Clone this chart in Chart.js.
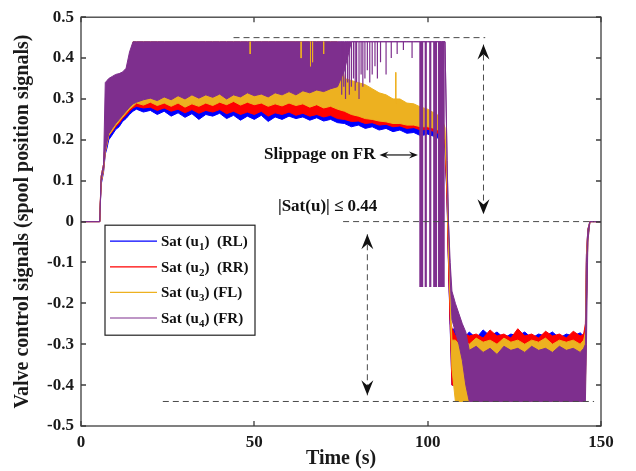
<!DOCTYPE html>
<html lang="en">
<head>
<meta charset="UTF-8">
<title>Valve control signals</title>
<script src="https://cdn.jsdelivr.net/npm/chart.js"></script>
<style>
  html, body { margin: 0; padding: 0; background: #fff; }
</style>
</head>
<body>
<canvas id="valveChart" width="636" height="471"></canvas>
<script>
// time grid (s) shared by every envelope below
const time = [0, 5.4, 5.8, 6.5, 7, 7.5, 8, 9, 10, 11, 12, 13, 14, 15,
  16, 18, 20, 22, 24, 26, 28, 30, 32, 34, 36, 38, 40, 42, 44, 46, 48, 50, 52, 54, 56, 58, 60,
  62, 64, 66, 68, 70, 72, 74, 76, 78, 80, 82, 84, 86, 88, 90, 92, 94, 96, 98, 100, 102, 104,
  105, 105.6, 106, 106.5, 107, 108, 109, 110, 111,
  112, 114, 116, 118, 120, 122, 124, 126, 128, 130, 132, 134, 136, 138, 140, 142, 144,
  145, 145.5, 145.8, 146.2, 146.8, 148, 150];

// Sat(u1) RL - lower / upper envelope of the chattering signal
const blueLo = [0, 0, 0.09, 0.12, 0.165, 0.18, 0.2, 0.212, 0.225, 0.232, 0.245, 0.252, 0.262, 0.27,
  0.275, 0.268, 0.272, 0.262, 0.27, 0.258, 0.266, 0.255, 0.264, 0.25, 0.262, 0.258, 0.265, 0.252, 0.26,
  0.248, 0.258, 0.25, 0.26, 0.245, 0.256, 0.25, 0.258, 0.252, 0.256, 0.248, 0.254, 0.246, 0.25, 0.242,
  0.24, 0.232, 0.236, 0.228, 0.232, 0.224, 0.228, 0.22, 0.224, 0.216, 0.218, 0.21, 0.214, 0.208, 0.2,
  0.18, 0.05, -0.1, -0.26, -0.4, -0.4, -0.4, -0.4, -0.4,
  -0.4, -0.4, -0.4, -0.4, -0.4, -0.4, -0.4, -0.4, -0.4, -0.4, -0.4, -0.4, -0.4, -0.4, -0.4, -0.4, -0.4,
  -0.4, -0.4, -0.2, -0.04, 0, 0, 0];
const blueHi = [0, 0, 0.1, 0.13, 0.18, 0.2, 0.22, 0.23, 0.24, 0.25, 0.26, 0.27, 0.28, 0.285,
  0.29, 0.29, 0.29, 0.29, 0.29, 0.29, 0.29, 0.29, 0.29, 0.29, 0.29, 0.29, 0.29, 0.29, 0.29,
  0.29, 0.29, 0.29, 0.29, 0.29, 0.29, 0.29, 0.29, 0.29, 0.29, 0.29, 0.29, 0.29, 0.29, 0.29,
  0.26, 0.255, 0.25, 0.248, 0.245, 0.24, 0.24, 0.235, 0.235, 0.23, 0.23, 0.225, 0.225, 0.22, 0.215,
  0.19, 0.06, -0.09, -0.25, -0.265, -0.26, -0.275, -0.265, -0.28,
  -0.27, -0.285, -0.265, -0.28, -0.27, -0.285, -0.275, -0.28, -0.27, -0.285, -0.275, -0.28, -0.27, -0.285, -0.275, -0.28, -0.272,
  -0.28, -0.26, -0.08, -0.02, 0, 0, 0];

// Sat(u2) RR
const redLo = [0, 0, 0.095, 0.125, 0.17, 0.19, 0.21, 0.22, 0.232, 0.24, 0.252, 0.26, 0.27, 0.278,
  0.282, 0.278, 0.28, 0.272, 0.278, 0.27, 0.275, 0.266, 0.274, 0.265, 0.272, 0.268, 0.274, 0.264, 0.27,
  0.262, 0.268, 0.262, 0.27, 0.258, 0.266, 0.262, 0.268, 0.26, 0.265, 0.258, 0.262, 0.256, 0.26, 0.252,
  0.25, 0.245, 0.246, 0.24, 0.242, 0.236, 0.238, 0.232, 0.234, 0.228, 0.23, 0.224, 0.226, 0.22, 0.212,
  0.19, 0.055, -0.1, -0.25, -0.4, -0.4, -0.4, -0.4, -0.4,
  -0.4, -0.4, -0.4, -0.4, -0.4, -0.4, -0.4, -0.4, -0.4, -0.4, -0.4, -0.4, -0.4, -0.4, -0.4, -0.4, -0.4,
  -0.4, -0.4, -0.2, -0.04, 0, 0, 0];
const redHi = [0, 0, 0.11, 0.14, 0.2, 0.34, 0.3, 0.28, 0.28, 0.28, 0.285, 0.29, 0.295, 0.3,
  0.3, 0.3, 0.3, 0.3, 0.3, 0.3, 0.3, 0.3, 0.3, 0.3, 0.3, 0.3, 0.3, 0.3, 0.3,
  0.3, 0.3, 0.3, 0.3, 0.3, 0.3, 0.3, 0.3, 0.3, 0.3, 0.3, 0.3, 0.3, 0.3, 0.3,
  0.275, 0.27, 0.265, 0.262, 0.258, 0.255, 0.252, 0.248, 0.245, 0.242, 0.24, 0.236, 0.235, 0.23, 0.225,
  0.2, 0.065, -0.09, -0.24, -0.26, -0.28, -0.27, -0.285, -0.275,
  -0.28, -0.275, -0.285, -0.265, -0.28, -0.275, -0.285, -0.262, -0.28, -0.275, -0.285, -0.268, -0.28, -0.275, -0.285, -0.268, -0.28,
  -0.275, -0.25, -0.08, -0.02, 0, 0, 0];

// Sat(u3) FL
const yellowLo = [0, 0, 0.095, 0.125, 0.17, 0.19, 0.21, 0.222, 0.235, 0.245, 0.255, 0.265, 0.275, 0.282,
  0.29, 0.285, 0.292, 0.284, 0.29, 0.282, 0.29, 0.28, 0.288, 0.282, 0.29, 0.284, 0.292, 0.286, 0.294,
  0.285, 0.292, 0.286, 0.29, 0.282, 0.288, 0.283, 0.29, 0.284, 0.288, 0.28, 0.286, 0.278, 0.282, 0.275,
  0.27, 0.262, 0.258, 0.252, 0.25, 0.246, 0.244, 0.24, 0.24, 0.236, 0.236, 0.232, 0.232, 0.228, 0.22,
  0.2, 0.09, -0.06, -0.2, -0.36, -0.44, -0.44, -0.44, -0.44,
  -0.44, -0.44, -0.44, -0.44, -0.44, -0.44, -0.44, -0.44, -0.44, -0.44, -0.44, -0.44, -0.44, -0.44, -0.44, -0.44, -0.44,
  -0.44, -0.42, -0.22, -0.05, 0, 0, 0];
const yellowHi = [0, 0, 0.11, 0.14, 0.2, 0.25, 0.28, 0.3, 0.32, 0.34, 0.36, 0.37, 0.4, 0.44,
  0.44, 0.44, 0.44, 0.44, 0.44, 0.44, 0.44, 0.44, 0.44, 0.44, 0.44, 0.44, 0.44, 0.44, 0.44,
  0.44, 0.44, 0.44, 0.44, 0.44, 0.44, 0.44, 0.44, 0.44, 0.44, 0.44, 0.44, 0.44, 0.44, 0.44,
  0.35, 0.345, 0.34, 0.335, 0.325, 0.315, 0.31, 0.3, 0.3, 0.29, 0.288, 0.28, 0.275, 0.265, 0.255,
  0.23, 0.1, -0.04, -0.18, -0.29, -0.29, -0.3, -0.29, -0.295,
  -0.3, -0.285, -0.295, -0.29, -0.3, -0.285, -0.295, -0.29, -0.3, -0.29, -0.295, -0.285, -0.3, -0.29, -0.295, -0.29, -0.3,
  -0.29, -0.27, -0.09, -0.02, 0, 0, 0];

// Sat(u4) FR
const purpleLo = [0, 0, 0.1, 0.13, 0.175, 0.195, 0.215, 0.228, 0.24, 0.25, 0.26, 0.27, 0.28, 0.288,
  0.292, 0.298, 0.302, 0.296, 0.305, 0.298, 0.308, 0.3, 0.31, 0.302, 0.31, 0.304, 0.312, 0.3, 0.31,
  0.305, 0.315, 0.308, 0.312, 0.305, 0.315, 0.31, 0.318, 0.31, 0.32, 0.315, 0.322, 0.318, 0.325, 0.33,
  0.37, 0.44, 0.44, 0.44, 0.44, 0.44, 0.44, 0.44, 0.44, 0.44, 0.44, 0.44, 0.44, 0.44, 0.44,
  0.44, 0.15, 0, -0.14, -0.24, -0.27, -0.3, -0.34, -0.4,
  -0.44, -0.44, -0.44, -0.44, -0.44, -0.44, -0.44, -0.44, -0.44, -0.44, -0.44, -0.44, -0.44, -0.44, -0.44, -0.44, -0.44,
  -0.44, -0.44, -0.3, -0.05, 0, 0, 0];
const purpleHi = [0, 0, 0.11, 0.14, 0.34, 0.345, 0.35, 0.355, 0.36, 0.362, 0.366, 0.375, 0.415, 0.44,
  0.44, 0.44, 0.44, 0.44, 0.44, 0.44, 0.44, 0.44, 0.44, 0.44, 0.44, 0.44, 0.44, 0.44, 0.44,
  0.44, 0.44, 0.44, 0.44, 0.44, 0.44, 0.44, 0.44, 0.44, 0.44, 0.44, 0.44, 0.44, 0.44, 0.44,
  0.44, 0.44, 0.44, 0.44, 0.44, 0.44, 0.44, 0.44, 0.44, 0.44, 0.44, 0.44, 0.44, 0.44, 0.44,
  0.44, 0.15, 0, -0.1, -0.17, -0.2, -0.225, -0.25, -0.27,
  -0.315, -0.305, -0.32, -0.31, -0.325, -0.305, -0.315, -0.31, -0.32, -0.305, -0.315, -0.31, -0.32, -0.305, -0.315, -0.31, -0.32,
  -0.31, -0.3, -0.1, -0.02, 0, 0, 0];

// isolated vertical streaks
const purpleSpikeT = [75.2, 75.8, 76.3, 76.9, 77.4, 78.0, 78.6, 79.1, 79.5, 80.2, 80.8, 81.3, 81.9, 82.6,
  83.3, 84.0, 84.8, 85.5, 86.4, 88.0, 89.5, 91.2, 93.0, 95.5];
const purpleSpikeLo = [0.31, 0.33, 0.3, 0.34, 0.31, 0.33, 0.35, 0.32, 0.34, 0.3, 0.36, 0.33, 0.35, 0.37,
  0.34, 0.36, 0.38, 0.35, 0.39, 0.36, 0.4, 0.41, 0.42, 0.4];
const slipT = [97.9, 98.4, 99.45, 100.75, 101.9, 102.4, 103.3, 103.8, 104.3, 104.6];
const slipLo = [-0.16, -0.16, -0.16, -0.16, -0.16, -0.16, -0.16, -0.16, -0.16, -0.16];
const yellowSpikeT = [48.8, 63.5, 66.2, 66.8, 70.0, 90.8];
const yellowSpikeHi = [0.44, 0.44, 0.44, 0.44, 0.44, 0.365];
const yellowSpikeLo = [0.41, 0.4, 0.38, 0.39, 0.41, 0.29];

const xTicks = [0, 50, 100, 150];
const yTicks = [-0.5, -0.4, -0.3, -0.2, -0.1, 0, 0.1, 0.2, 0.3, 0.4, 0.5];
const yTickLabels = ['-0.5', '-0.4', '-0.3', '-0.2', '-0.1', '0', '0.1', '0.2', '0.3', '0.4', '0.5'];

// dashed guides (time, value)
const guideX = [[44, 116.6], [116.1, 116.1], [75.6, 148], [82.6, 82.6], [23.6, 148]];
const guideY = [[0.45, 0.45], [0.433, 0.018], [0, 0], [-0.031, -0.425], [-0.44, -0.44]];

const SERIF = '"Liberation Serif", "Times New Roman", serif';
const colors = {
  blue: 'rgb(0,0,255)',
  red: 'rgb(255,0,0)',
  yellow: 'rgb(237,177,32)',
  purple: 'rgb(126,47,142)'
};

const toXY = (ts, vs) => ts.map((t, i) => ({ x: t, y: vs[i] }));
const streaks = (ts, his, los) => {
  const pts = [];
  ts.forEach((t, i) => {
    pts.push({ x: t, y: his[i] }, { x: t, y: los[i] }, { x: t, y: null });
  });
  return pts;
};

const series = [
  { color: colors.blue, lo: blueLo, hi: blueHi, order: 8 },
  { color: colors.red, lo: redLo, hi: redHi, order: 7 },
  { color: colors.yellow, lo: yellowLo, hi: yellowHi, order: 6 },
  { color: colors.purple, lo: purpleLo, hi: purpleHi, order: 4 }
];

const datasets = [];
series.forEach(s => {
  datasets.push({ data: toXY(time, s.hi), borderColor: s.color, borderWidth: 1, fill: false, order: s.order });
  datasets.push({ data: toXY(time, s.lo), borderColor: s.color, borderWidth: 1, backgroundColor: s.color, fill: '-1', order: s.order });
});
datasets.push({ data: streaks(yellowSpikeT, yellowSpikeHi, yellowSpikeLo), borderColor: colors.yellow, borderWidth: 1, fill: false, order: 3 });
datasets.push({ data: streaks(purpleSpikeT, purpleSpikeT.map(() => 0.44), purpleSpikeLo), borderColor: colors.purple, borderWidth: 1.2, fill: false, order: 2 });
datasets.push({ data: streaks(slipT, slipT.map(() => 0.44), slipLo), borderColor: colors.purple, borderWidth: 2.2, fill: false, order: 2 });
guideX.forEach((gx, i) => {
  datasets.push({ data: toXY(gx, guideY[i]), borderColor: '#4a4a4a', borderWidth: 1, borderDash: [6, 4], fill: false, order: 1 });
});

function arrowHead(ctx, x, y, dx, dy, len, half) {
  // tip at (x,y), pointing along (dx,dy)
  const px = -dy, py = dx;
  ctx.beginPath();
  ctx.moveTo(x, y);
  ctx.lineTo(x - dx * len + px * half, y - dy * len + py * half);
  ctx.lineTo(x - dx * len * 0.65, y - dy * len * 0.65);
  ctx.lineTo(x - dx * len - px * half, y - dy * len - py * half);
  ctx.closePath();
  ctx.fill();
}

const decorations = {
  id: 'decorations',
  afterDatasetsDraw(chart) {
    const { ctx, chartArea: a, scales: { x, y } } = chart;
    ctx.save();
    // axes box + inward ticks
    ctx.strokeStyle = '#3c3c3c';
    ctx.lineWidth = 1.3;
    ctx.beginPath();
    xTicks.forEach(v => {
      const px = Math.round(x.getPixelForValue(v));
      ctx.moveTo(px, a.bottom); ctx.lineTo(px, a.bottom - 5);
      ctx.moveTo(px, a.top); ctx.lineTo(px, a.top + 5);
    });
    yTicks.forEach(v => {
      const py = Math.round(y.getPixelForValue(v));
      ctx.moveTo(a.left, py); ctx.lineTo(a.left + 5, py);
      ctx.moveTo(a.right, py); ctx.lineTo(a.right - 5, py);
    });
    ctx.stroke();
    ctx.strokeRect(a.left, a.top, a.right - a.left, a.bottom - a.top);

    // arrowheads on the dashed guides
    ctx.fillStyle = '#111';
    arrowHead(ctx, x.getPixelForValue(116.1), y.getPixelForValue(0.433), 0, -1, 15, 6);
    arrowHead(ctx, x.getPixelForValue(116.1), y.getPixelForValue(0.018), 0, 1, 15, 6);
    arrowHead(ctx, x.getPixelForValue(82.6), y.getPixelForValue(-0.031), 0, -1, 15, 6);
    arrowHead(ctx, x.getPixelForValue(82.6), y.getPixelForValue(-0.425), 0, 1, 15, 6);

    // slippage double arrow
    const sx1 = x.getPixelForValue(86.1), sx2 = x.getPixelForValue(97.2), sy = y.getPixelForValue(0.163);
    ctx.strokeStyle = '#111';
    ctx.lineWidth = 1.2;
    ctx.beginPath();
    ctx.moveTo(sx1 + 4, sy); ctx.lineTo(sx2 - 4, sy);
    ctx.stroke();
    arrowHead(ctx, sx1, sy, -1, 0, 9, 3.5);
    arrowHead(ctx, sx2, sy, 1, 0, 9, 3.5);

    // annotation text
    ctx.fillStyle = '#111';
    ctx.font = 'bold 17px ' + SERIF;
    ctx.textBaseline = 'alphabetic';
    ctx.textAlign = 'left';
    ctx.fillText('Slippage on FR', x.getPixelForValue(52.8), y.getPixelForValue(0.153));
    ctx.fillText('|Sat(u)| \u2264 0.44', x.getPixelForValue(56.8), y.getPixelForValue(0.026));

    // legend
    const lx = a.left + 24, ly = a.top + 208, lw = 150, lh = 110;
    ctx.fillStyle = '#fff';
    ctx.fillRect(lx, ly, lw, lh);
    ctx.strokeStyle = '#222';
    ctx.lineWidth = 1.2;
    ctx.strokeRect(lx, ly, lw, lh);
    const items = [
      [colors.blue, '1', '  (RL)'],
      [colors.red, '2', '  (RR)'],
      [colors.yellow, '3', ' (FL)'],
      [colors.purple, '4', ' (FR)']
    ];
    items.forEach((it, i) => {
      const yy = ly + 16 + i * 25.6;
      ctx.strokeStyle = it[0];
      ctx.lineWidth = 1.2;
      ctx.beginPath();
      ctx.moveTo(lx + 5, yy); ctx.lineTo(lx + 52, yy);
      ctx.stroke();
      ctx.fillStyle = '#111';
      let tx = lx + 56;
      const base = yy + 5;
      ctx.font = 'bold 15px ' + SERIF;
      ctx.fillText('Sat (u', tx, base);
      tx += ctx.measureText('Sat (u').width;
      ctx.font = 'bold 11px ' + SERIF;
      ctx.fillText(it[1], tx, base + 4);
      tx += ctx.measureText(it[1]).width;
      ctx.font = 'bold 15px ' + SERIF;
      ctx.fillText(')' + it[2], tx, base);
    });
    ctx.restore();
  }
};

new Chart(document.getElementById('valveChart').getContext('2d'), {
  type: 'line',
  data: { datasets: datasets },
  options: {
    responsive: false,
    animation: false,
    devicePixelRatio: 1,
    events: [],
    layout: { padding: { top: 16, right: 35, left: 0, bottom: 0 } },
    elements: { point: { radius: 0 }, line: { tension: 0 } },
    plugins: { legend: { display: false }, tooltip: { enabled: false } },
    scales: {
      x: {
        type: 'linear', min: 0, max: 150,
        grid: { display: false, drawTicks: false },
        border: { display: false },
        afterBuildTicks: s => { s.ticks = xTicks.map(v => ({ value: v })); },
        afterFit: s => { s.height = 45; },
        ticks: { font: { family: SERIF, size: 17, weight: 'bold' }, color: '#1a1a1a', padding: 6, maxRotation: 0, autoSkip: false },
        title: { display: true, text: 'Time (s)', font: { family: SERIF, size: 20, weight: 'bold' }, color: '#1a1a1a', padding: { top: 0, bottom: 0 } }
      },
      y: {
        type: 'linear', min: -0.5, max: 0.5,
        grid: { display: false, drawTicks: false },
        border: { display: false },
        afterBuildTicks: s => { s.ticks = yTicks.map(v => ({ value: v })); },
        afterFit: s => { s.width = 81; },
        ticks: {
          font: { family: SERIF, size: 17, weight: 'bold' }, color: '#1a1a1a', padding: 7, autoSkip: false,
          callback: (v) => yTickLabels[yTicks.indexOf(Math.round(v * 10) / 10)]
        },
        title: { display: true, text: 'Valve control signals (spool position signals)', font: { family: SERIF, size: 20, weight: 'bold' }, color: '#1a1a1a', padding: { top: 11, bottom: 0 } }
      }
    }
  },
  plugins: [decorations]
});
</script>
</body>
</html>
